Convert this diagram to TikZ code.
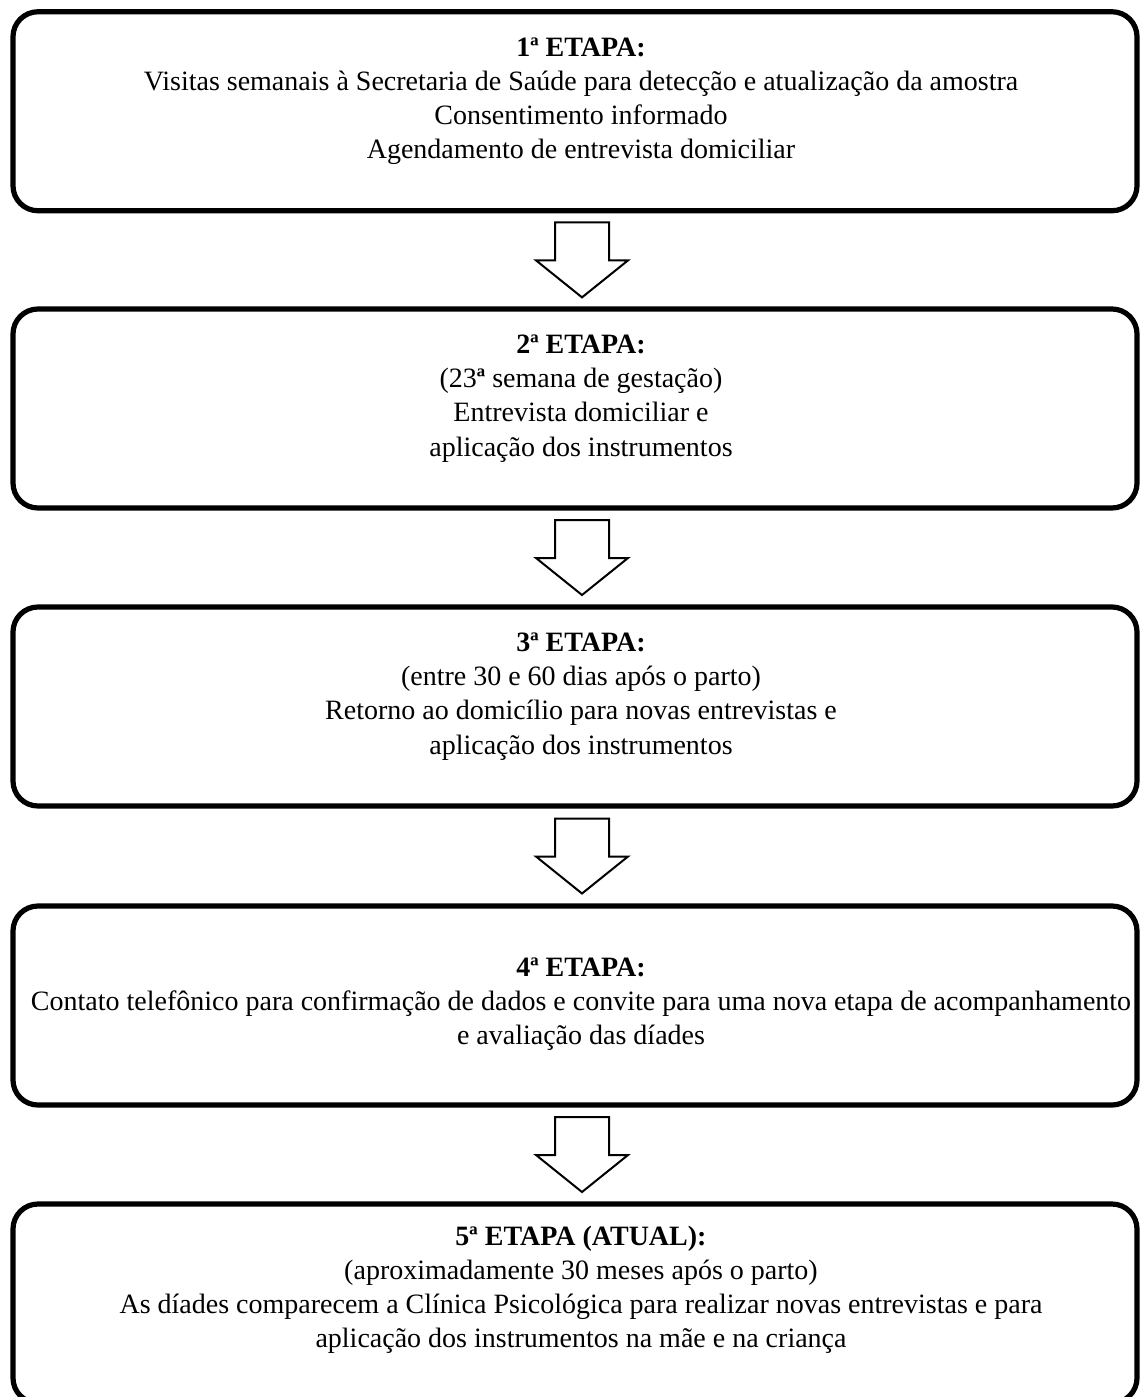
\documentclass[tikz,border=0pt]{standalone}
\usepackage{fontspec}
\setmainfont{Liberation Serif}
\usetikzlibrary{positioning}

\tikzset{
	caixa/.style={draw, line width=2.6pt, rounded corners=12.5pt, minimum width=562pt, minimum height=99.5pt, inner sep=0pt},
	texto/.style={align=center, inner sep=0pt, xshift=3pt, font=\fontsize{14pt}{17.1pt}\selectfont},
	seta/.style={draw, fill=white, line width=1pt}
}

\begin{document}
\begin{tikzpicture}[x=0.5pt, y=-0.5pt]
		\useasboundingbox (0,0) rectangle (1140,1397);
		\clip (0,0) rectangle (1140,1397);

		% caixas das etapas
		\node[caixa] (etapa1) at (575,111.25) {};
		\node[caixa] (etapa2) at (575,408.5) {};
		\node[caixa] (etapa3) at (575,706.5) {};
		\node[caixa] (etapa4) at (575,1005.5) {};
		\node[caixa] (etapa5) at (575,1303.5) {};

		\node[texto, below=14pt of etapa1.north] (texto1) {\textbf{1ª ETAPA:}\\Visitas semanais à Secretaria de Saúde para detecção e atualização da amostra\\Consentimento informado\\Agendamento de entrevista domiciliar};
		\node[texto, below=14pt of etapa2.north] (texto2) {\textbf{2ª ETAPA:}\\(23\textbf{ª} semana de gestação)\\Entrevista domiciliar e\\aplicação dos instrumentos};
		\node[texto, below=14pt of etapa3.north] (texto3) {\textbf{3ª ETAPA:}\\(entre 30 e 60 dias após o parto)\\Retorno ao domicílio para novas entrevistas e\\aplicação dos instrumentos};
		\node[texto, below=27pt of etapa4.north] (texto4) {\textbf{4ª ETAPA:}\\Contato telefônico para confirmação de dados e convite para uma nova etapa de acompanhamento\\e avaliação das díades};
		\node[texto, below=12pt of etapa5.north] (texto5) {\textbf{5ª ETAPA (ATUAL):}\\(aproximadamente 30 meses após o parto)\\As díades comparecem a Clínica Psicológica para realizar novas entrevistas e para\\aplicação dos instrumentos na mãe e na criança};

		% setas entre as etapas
		\foreach \a/\b in {etapa1/etapa2, etapa2/etapa3, etapa3/etapa4, etapa4/etapa5} {
			\path (\a.south) -- (\b.north) coordinate[pos=0.5, xshift=3.5pt] (meio);
			\draw[seta] (meio) ++(-27,-37.5) -- ++(54,0) -- ++(0,38) -- ++(19,0) -- ++(-46,37) -- ++(-46,-37) -- ++(19,0) -- cycle;
		}
	\end{tikzpicture}
\end{document}
